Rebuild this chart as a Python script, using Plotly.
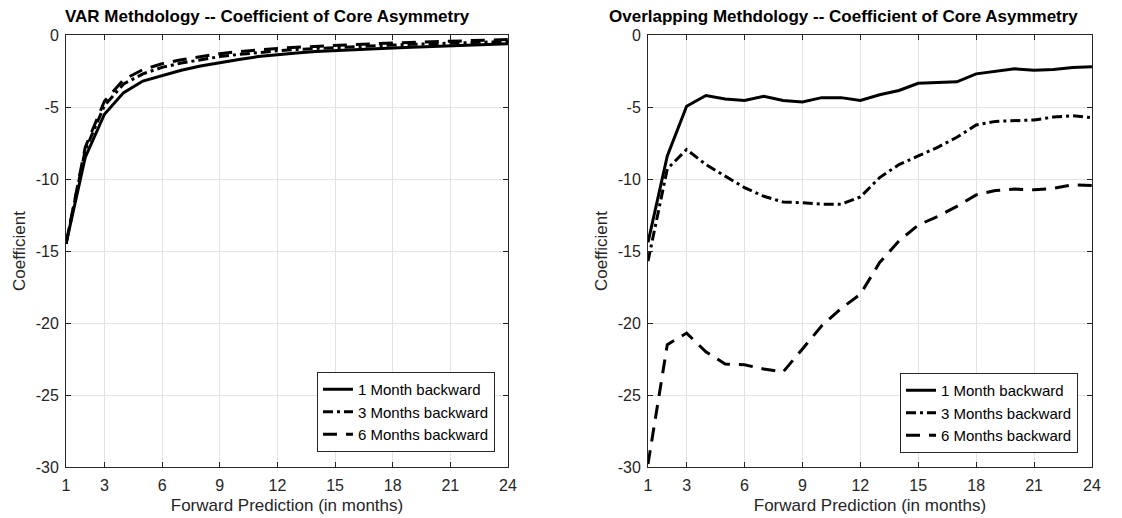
import plotly.graph_objects as go

months = list(range(1, 25))
x_ticks = [1, 3, 6, 9, 12, 15, 18, 21, 24]
y_ticks = [0, -5, -10, -15, -20, -25, -30]
series_names = ["1 Month backward", "3 Months backward", "6 Months backward"]

var_1m = [-14.5, -8.5, -5.5, -4.0, -3.2, -2.8, -2.45, -2.15, -1.9, -1.7, -1.5, -1.35,
          -1.25, -1.15, -1.08, -1.0, -0.95, -0.9, -0.85, -0.8, -0.75, -0.7, -0.65, -0.6]
var_3m = [-14.5, -8.0, -4.9, -3.4, -2.7, -2.25, -1.95, -1.7, -1.5, -1.35, -1.2, -1.1,
          -1.0, -0.93, -0.86, -0.8, -0.75, -0.7, -0.65, -0.6, -0.56, -0.52, -0.48, -0.45]
var_6m = [-14.5, -7.8, -4.6, -3.1, -2.4, -2.0, -1.72, -1.5, -1.3, -1.15, -1.03, -0.93,
          -0.85, -0.78, -0.72, -0.66, -0.61, -0.56, -0.51, -0.47, -0.43, -0.39, -0.35, -0.32]

ovl_1m = [-14.4, -8.4, -4.95, -4.2, -4.45, -4.55, -4.25, -4.55, -4.65, -4.35, -4.35, -4.55,
          -4.15, -3.85, -3.35, -3.3, -3.25, -2.7, -2.55, -2.35, -2.45, -2.4, -2.25, -2.2]
ovl_3m = [-15.7, -9.3, -7.95, -9.0, -9.8, -10.6, -11.2, -11.6, -11.65, -11.75, -11.75, -11.25,
          -9.9, -9.0, -8.4, -7.8, -7.1, -6.25, -6.0, -5.95, -5.9, -5.7, -5.6, -5.75]
ovl_6m = [-29.8, -21.5, -20.7, -22.0, -22.85, -22.9, -23.2, -23.4, -21.8, -20.2, -19.0, -18.0,
          -15.8, -14.3, -13.2, -12.6, -11.9, -11.1, -10.8, -10.7, -10.75, -10.65, -10.4, -10.45]

line_styles = ["solid", "10px,4px,3px,4px", "14px,9px"]
FONT = "Liberation Sans, Arial, Helvetica, sans-serif"
TXT = "#262626"

fig = go.Figure()
for i, (vals, name) in enumerate(zip([var_1m, var_3m, var_6m], series_names)):
    fig.add_trace(go.Scatter(x=months, y=vals, mode="lines", name=name,
                             line=dict(color="black", width=3, dash=line_styles[i]),
                             xaxis="x", yaxis="y", legend="legend"))
for i, (vals, name) in enumerate(zip([ovl_1m, ovl_3m, ovl_6m], series_names)):
    fig.add_trace(go.Scatter(x=months, y=vals, mode="lines", name=name,
                             line=dict(color="black", width=3, dash=line_styles[i]),
                             xaxis="x2", yaxis="y2", legend="legend2"))

W, H = 1122, 518
def px_x(p):
    return p / W
def px_y(p):
    return (H - p) / H

axis_common = dict(
    showline=True, linecolor=TXT, linewidth=1, mirror="ticks",
    ticks="inside", ticklen=5, tickcolor=TXT, tickwidth=1,
    showgrid=True, gridcolor="#e3e3e3", gridwidth=1, zeroline=False,
    tickfont=dict(family=FONT, size=16, color=TXT), automargin=False,
)

xa = dict(axis_common, range=[1, 24], tickvals=x_ticks, ticktext=[str(v) for v in x_ticks],
          ticklabelstandoff=4,
          title=dict(text="Forward Prediction (in months)", font=dict(family=FONT, size=17, color=TXT), standoff=5))
ya = dict(axis_common, range=[-30, 0], tickvals=y_ticks, ticktext=[str(v) for v in y_ticks],
          ticklabelstandoff=3,
          title=dict(text="Coefficient", font=dict(family=FONT, size=17, color=TXT), standoff=5))

legend_common = dict(
    bgcolor="white", bordercolor=TXT, borderwidth=1,
    font=dict(family=FONT, size=15, color="black"),
    xanchor="right", yanchor="bottom", tracegroupgap=0,
)

fig.update_layout(
    width=W, height=H,
    margin=dict(l=0, r=0, t=0, b=0),
    paper_bgcolor="white", plot_bgcolor="white",
    xaxis=dict(xa, domain=[px_x(66), px_x(508)], anchor="y"),
    yaxis=dict(ya, domain=[px_y(467), px_y(35)], anchor="x"),
    xaxis2=dict(xa, domain=[px_x(648), px_x(1092)], anchor="y2"),
    yaxis2=dict(ya, domain=[px_y(467), px_y(35)], anchor="x2"),
    legend=dict(legend_common, x=px_x(495), y=px_y(452)),
    legend2=dict(legend_common, x=px_x(1078), y=px_y(453)),
    showlegend=True,
    annotations=[
        dict(text="<b>VAR Methdology -- Coefficient of Core Asymmetry</b>", x=px_x(267), y=px_y(16),
             xref="paper", yref="paper", xanchor="center", yanchor="middle", showarrow=False,
             font=dict(family=FONT, size=17, color="black")),
        dict(text="<b>Overlapping Methdology -- Coefficient of Core Asymmetry</b>", x=px_x(843), y=px_y(16),
             xref="paper", yref="paper", xanchor="center", yanchor="middle", showarrow=False,
             font=dict(family=FONT, size=17, color="black")),
    ],
)

fig.write_html("out.html")
